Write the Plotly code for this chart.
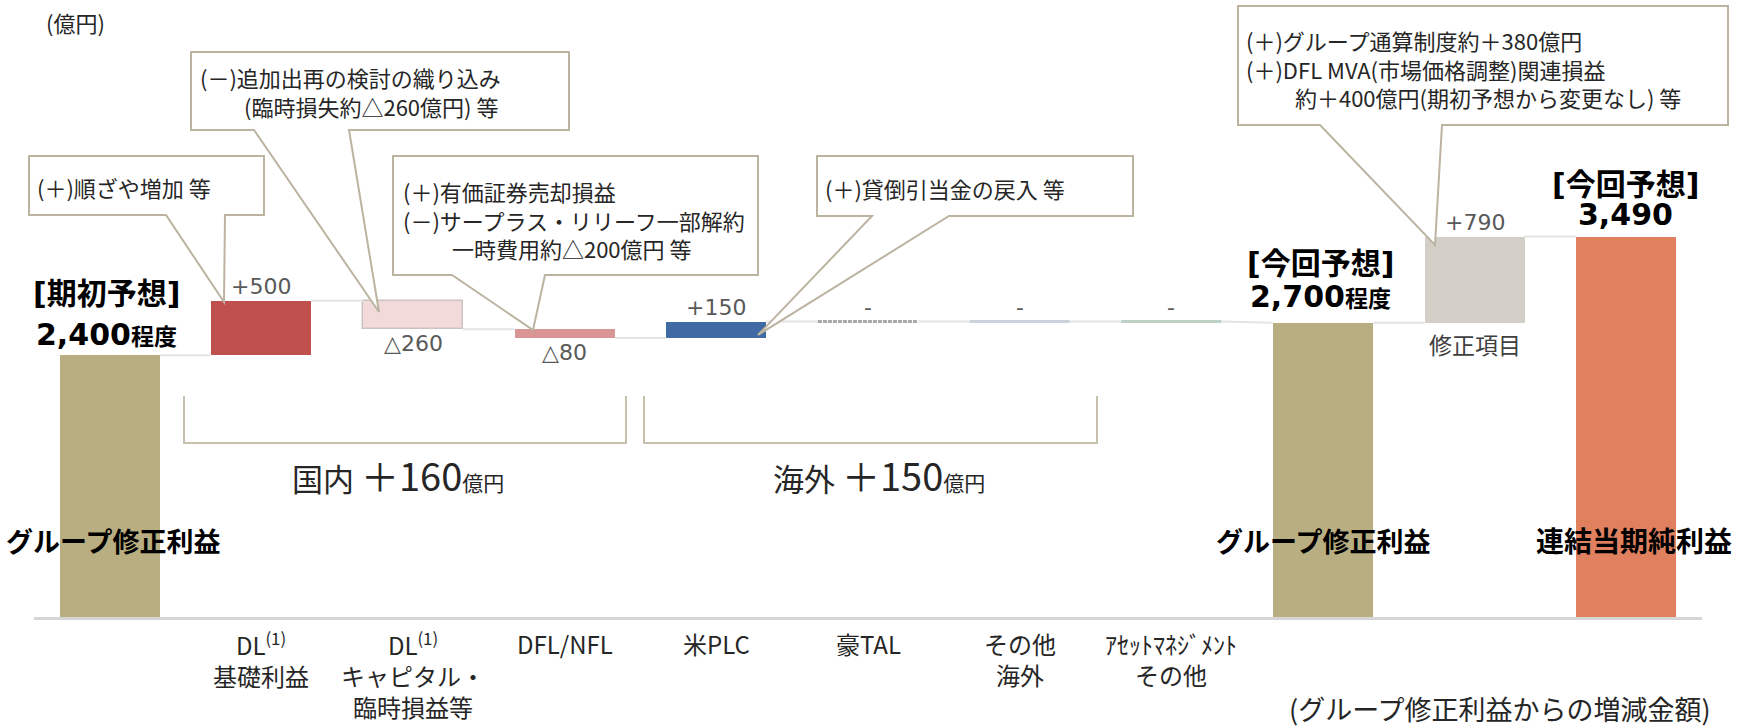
import plotly.graph_objects as go

# ---------------- data ----------------
kinds = ["total", "delta", "delta", "delta", "delta", "delta", "delta", "delta", "total", "delta", "total"]
values = [2400, 500, -260, -80, 150, 0, 0, 0, 2700, 790, 3490]
value_labels = ["", "+500", "△260", "△80", "+150", "-", "-", "-", "", "+790", ""]
axis_labels = ["", "DL<sup>(1)</sup><br>基礎利益", "DL<sup>(1)</sup><br>キャピタル・<br>臨時損益等", "DFL/NFL", "米PLC",
               "豪TAL", "その他<br>海外", "ｱｾｯﾄﾏﾈｼﾞﾒﾝﾄ<br>その他", "", "修正項目", ""]
total_titles = ["グループ修正利益", "", "", "", "", "", "", "", "グループ修正利益", "", "連結当期純利益"]
bar_colors = ["#b8ae82", "#c0504d", "#f3dada", "#d99694", "#3f6aa3", "#a9a9a9", "#cdd2dc", "#bdd0c6",
              "#b8ae82", "#d3cec6", "#e0805e"]
group_labels = ["国内", "海外"]
group_values = ["＋160", "＋150"]
unit_label = "(億円)"
footnote = "(グループ修正利益からの増減金額)"
callouts = [
    ["(＋)順ざや増加 等"],
    ["(－)追加出再の検討の織り込み", "　　(臨時損失約△260億円) 等"],
    ["(＋)有価証券売却損益", "(－)サープラス・リリーフ一部解約", "　　 一時費用約△200億円 等"],
    ["(＋)貸倒引当金の戻入 等"],
    ["(＋)グループ通算制度約＋380億円", "(＋)DFL MVA(市場価格調整)関連損益", "　　 約＋400億円(期初予想から変更なし) 等"],
]
headline_titles = ["[期初予想]", "[今回予想]", "[今回予想]"]
headline_values = ["2,400", "2,700", "3,490"]
headline_suffix = ["程度", "程度", ""]

# ---------------- waterfall geometry from data ----------------
bases, heights, starts, ends = [], [], [], []
running = 0
for k, v in zip(kinds, values):
    if k == "total":
        bases.append(0); heights.append(v); starts.append(v); ends.append(v); running = v
    else:
        starts.append(running)
        bases.append(running + min(0, v)); heights.append(abs(v))
        running += v
        ends.append(running)

W = 1742; H = 728
ML, MR, MT, MB = 34, 40, 0, 111
PW = W - ML - MR; PH = H - MT - MB
YMAX = 5660
HALF = 0.33
CJK = "Noto Sans CJK JP"
NUM = "DejaVu Sans, Noto Sans CJK JP"

def PX(px):
    return (px - ML) / PW

def PY(py):
    return (H - MB - py) / PH

fig = go.Figure()

# connectors
cx, cy = [], []
for i in range(len(values) - 1):
    cx += [i + HALF, i + 1 - HALF, None]
    cy += [ends[i], starts[i + 1], None]
fig.add_trace(go.Scatter(x=cx, y=cy, mode="lines", line=dict(color="#e4e4e4", width=2),
                         hoverinfo="skip", showlegend=False))

bar_idx = [i for i, v in enumerate(values) if v != 0]
fig.add_trace(go.Bar(
    x=bar_idx, y=[heights[i] for i in bar_idx], base=[bases[i] for i in bar_idx],
    width=2 * HALF,
    marker=dict(color=[bar_colors[i] for i in bar_idx],
                line=dict(color=["#cbc3c3" if i == 2 else bar_colors[i] for i in bar_idx],
                          width=[1.5 if i == 2 else 0 for i in bar_idx])),
    hoverinfo="skip", showlegend=False))

# zero-change markers
for i, v in enumerate(values):
    if v == 0 and kinds[i] == "delta":
        fig.add_trace(go.Scatter(x=[i - HALF, i + HALF], y=[ends[i], ends[i]], mode="lines",
                                 line=dict(color=bar_colors[i], width=3,
                                           dash="4px,1px" if i == 5 else "solid"),
                                 hoverinfo="skip", showlegend=False))

anns = []
# value labels
for i, lab in enumerate(value_labels):
    if not lab:
        continue
    above = values[i] >= 0
    anns.append(dict(text=lab, x=i, y=(bases[i] + heights[i]) if above else bases[i],
                     xref="x", yref="y", xanchor="center", yanchor="bottom" if above else "top",
                     showarrow=False, font=dict(size=22, color="#595959", family=NUM)))

# axis category labels
for i, lab in enumerate(axis_labels):
    if not lab:
        continue
    if i == 9:
        anns.append(dict(text=lab, x=i, y=bases[i], xref="x", yref="y", xanchor="center", yanchor="top",
                         yshift=-2, showarrow=False, font=dict(size=23, color="#404040", family=CJK)))
    else:
        anns.append(dict(text=lab, x=i, y=PY(624), xref="x", yref="paper", xanchor="center", yanchor="top",
                         showarrow=False, font=dict(size=24, color="#262626", family=CJK)))

# total titles
for i, lab in enumerate(total_titles):
    if lab:
        anns.append(dict(text="<b>" + lab + "</b>", x=i + (0.02 if i == 0 else (0.0 if i == 8 else 0.05)),
                         y=PY(540), xref="x", yref="paper", xanchor="center", yanchor="middle",
                         showarrow=False, font=dict(size=28 if i == 10 else 27, color="#000000", family=CJK)))

def A(text, px, py, size, color="#262626", xanchor="center", family=CJK, align="center"):
    anns.append(dict(text=text, x=PX(px), y=PY(py), xref="paper", yref="paper", xanchor=xanchor,
                     yanchor="middle", align=align, showarrow=False,
                     font=dict(size=size, color=color, family=family)))

# headlines
head_pos = [(106, 293, 334), (1320, 263, 296), (1625, 184, 215)]
for (hx, hy1, hy2), t, v, s in zip(head_pos, headline_titles, headline_values, headline_suffix):
    A("<b>" + t + "</b>", hx, hy1, 30, "#000000", family=NUM)
    txt = "<b>" + v + (("<span style='font-size:23px'>" + s + "</span>") if s else "") + "</b>"
    A(txt, hx, hy2, 30, "#000000", family=NUM)

# group brackets and labels
bracket_px = [(184, 626), (644, 1097)]
group_centers = [398, 879]
shapes = []
for (bx0, bx1), gc, gl, gv in zip(bracket_px, group_centers, group_labels, group_values):
    shapes.append(dict(type="path", xref="paper", yref="paper",
                       path=f"M {PX(bx0)},{PY(396)} L {PX(bx0)},{PY(443)} L {PX(bx1)},{PY(443)} L {PX(bx1)},{PY(396)}",
                       line=dict(color="#c8c0ae", width=2)))
    A("<span style='font-size:31px'>" + gl + " </span>" + gv + "<span style='font-size:21px'>億円</span>",
      gc, 474, 38, "#262626")

A(unit_label, 44, 22, 22, "#262626", "left")
A(footnote, 1500, 708, 27, "#262626")

# callout boxes
boxes = [
    (29, 156, 264, 215, 166, 225, 224, 302),
    (191, 52, 569, 130, 254, 349, 379, 312),
    (393, 156, 758, 275, 452, 545, 533, 330),
    (817, 156, 1133, 216, 872, 949, 758, 335),
    (1238, 6, 1728, 125, 1320, 1442, 1435, 245),
]
text_pos = [(35, 187), (198, 91), (401, 219), (823, 188), (1244, 68)]
for (L, T, R, B, b1, b2, tx, ty), lines, (lx, ly) in zip(boxes, callouts, text_pos):
    p = (f"M {PX(L)},{PY(T)} L {PX(R)},{PY(T)} L {PX(R)},{PY(B)} L {PX(b2)},{PY(B)} "
         f"L {PX(tx)},{PY(ty)} L {PX(b1)},{PY(B)} L {PX(L)},{PY(B)} Z")
    shapes.append(dict(type="path", xref="paper", yref="paper", path=p, fillcolor="white",
                       line=dict(color="#bcb4a1", width=2), layer="above"))
    A("<br>".join(lines), lx, ly, 22, "#262626", "left", align="left")

fig.update_layout(
    width=W, height=H,
    margin=dict(l=ML, r=MR, t=MT, b=MB, pad=0),
    paper_bgcolor="white", plot_bgcolor="white",
    font=dict(family=CJK, color="#262626"),
    showlegend=False, bargap=0,
    xaxis=dict(range=[-0.5, 10.5], showgrid=False, zeroline=False, showticklabels=False, ticks="",
               showline=True, linecolor="#d6d6d6", linewidth=3, fixedrange=True),
    yaxis=dict(range=[0, YMAX], visible=False, fixedrange=True),
    annotations=anns, shapes=shapes,
)

fig.write_html("out.html", config={"displayModeBar": False},
               post_script="document.body.style.margin='0';document.body.style.overflow='hidden';")
